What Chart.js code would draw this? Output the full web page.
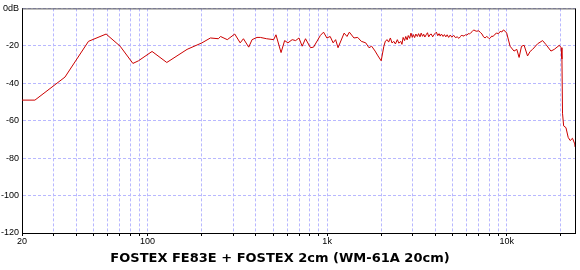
<!DOCTYPE html>
<html>
<head>
<meta charset="utf-8">
<title>FOSTEX FE83E + FOSTEX 2cm</title>
<script src="https://cdn.jsdelivr.net/npm/chart.js@4"></script>
<style>
    body { margin: 0; background: #fff; }
    #response-chart { display: block; }
</style>
</head>
<body>
<canvas id="response-chart" width="580" height="270"></canvas>
<script>
const frequencies = [
    20, 23.6, 34.7, 46.9, 58.8, 70.4, 82.9, 89, 106, 128,
    166, 201, 224, 248, 255, 278, 306, 328, 342, 366,
    382, 407, 425, 460, 504, 519, 554, 580, 605, 639,
    668, 697, 726, 758, 808, 840, 918, 955, 997, 1040,
    1080, 1115, 1150, 1244, 1290, 1330, 1410, 1480, 1550, 1640,
    1710, 1770, 1850, 1920, 2000, 2070, 2110, 2160, 2200, 2250,
    2300, 2350, 2400, 2460, 2510, 2570, 2610, 2650, 2700, 2740,
    2790, 2830, 2880, 2930, 2980, 3020, 3070, 3120, 3180, 3230,
    3290, 3340, 3400, 3450, 3500, 3560, 3620, 3680, 3740, 3800,
    3870, 3930, 4000, 4060, 4130, 4200, 4260, 4330, 4420, 4500,
    4580, 4660, 4750, 4850, 4950, 5070, 5180, 5300, 5420, 5530,
    5620, 5700, 5800, 5890, 6000, 6100, 6200, 6290, 6420, 6550,
    6760, 6980, 7130, 7280, 7430, 7580, 7720, 7850, 8000, 8100,
    8250, 8400, 8600, 8800, 9000, 9190, 9400, 9580, 9800, 10000,
    10440, 10980, 11380, 11720, 12090, 12500, 13060, 13500, 13930, 14860,
    15840, 16540, 17630, 18390, 19640, 20070, 20300, 20450, 20750, 21370,
    21990, 22550, 23240, 23930, 24000
];
const levels = [
    -49, -49, -36.7, -17.6, -13.7, -20.2, -29.4, -28, -23, -28.9,
    -21.9, -18.4, -15.8, -16.2, -15, -16.7, -13.7, -18.4, -16.2, -20.7,
    -16.7, -15.5, -15.5, -16.2, -16.7, -14.1, -23.6, -17.2, -18.4, -16.7,
    -17.2, -15.8, -20.2, -16.2, -21, -20.7, -14.4, -12.7, -15.8, -15,
    -18.4, -16.7, -21, -13.2, -15, -12.7, -15.8, -15.5, -17.6, -18.4,
    -21, -20.2, -22.8, -25.4, -28, -20.2, -17.5, -16.7, -18, -15.8,
    -18.5, -17.6, -19, -16.7, -18.6, -17.6, -19.2, -15.5, -17.2, -15,
    -16.8, -14.5, -16, -13.2, -15.5, -14, -15.6, -13.7, -15, -13.5,
    -15.2, -13.2, -14.9, -13.8, -15.3, -14.1, -13, -15.2, -14, -13.7,
    -15.2, -14, -13.4, -12.7, -14.6, -13.5, -14.8, -13.7, -15, -14,
    -15.2, -14.1, -15.5, -14.2, -15.4, -14.4, -15.6, -15.2, -16, -15,
    -14.2, -14.8, -14.6, -14.1, -14.3, -13.5, -13.6, -13.2, -12.4, -11.5,
    -12.2, -12, -12.8, -13.7, -15.2, -15.8, -15, -15.4, -16.2, -15.8,
    -14.8, -15, -13.8, -13.2, -13.5, -12.3, -12.6, -11.5, -12.2, -13.2,
    -20.2, -22.8, -21.9, -26.2, -20.2, -19.7, -25.4, -23, -21.9, -18.9,
    -17.2, -19.3, -22.8, -21.9, -19.7, -21, -27, -56, -62.8, -63.7,
    -68.9, -70.6, -69.4, -72.4, -74
];

// vertical grid positions and the ones that carry a label
const freqTicks = [
    20, 30, 40, 50, 60, 70, 80, 90,
    100, 200, 300, 400, 500, 600, 700, 800, 900,
    1000, 2000, 3000, 4000, 5000, 6000, 7000, 8000, 9000,
    10000, 20000
];
const freqLabels = {20: '20', 100: '100', 1000: '1k', 10000: '10k'};
const levelTicks = [-120, -100, -80, -60, -40, -20, 0];
const chartTitle = 'FOSTEX FE83E + FOSTEX 2cm (WM-61A 20cm)';

const gridColor = '#b8b8ff';
const tickFont = {family: 'Liberation Sans', size: 9};

// frame on top/right and the caption under the plot
const framePlugin = {
    id: 'frame',
    afterDraw(chart) {
        const ctx = chart.ctx;
        const area = chart.chartArea;
        ctx.save();
        ctx.lineWidth = 1;
        ctx.strokeStyle = '#555';
        ctx.beginPath();
        ctx.moveTo(area.left, area.top + 0.5);
        ctx.lineTo(area.right, area.top + 0.5);
        ctx.stroke();
        ctx.strokeStyle = '#000';
        ctx.beginPath();
        ctx.moveTo(area.right + 0.5, area.top);
        ctx.lineTo(area.right + 0.5, area.bottom);
        ctx.stroke();

        ctx.fillStyle = '#000';
        ctx.font = 'bold 13px "DejaVu Sans"';
        ctx.textAlign = 'center';
        ctx.textBaseline = 'alphabetic';
        ctx.fillText(chartTitle, 280, 262);
        ctx.restore();
    }
};

function drawResponseChart() {
    const data = {
        datasets: [
            {
                data: frequencies.map((f, i) => ({x: f, y: levels[i]})),
                borderColor: '#cc0000',
                borderWidth: 1,
                pointRadius: 0,
                tension: 0,
                fill: false
            }
        ]
    };

    const chartConfig = {
        type: 'line',
        data: data,
        options: {
            responsive: false,
            animation: false,
            layout: {
                padding: {top: 3, right: 5, left: 0, bottom: 0}
            },
            scales: {
                x: {
                    type: 'logarithmic',
                    min: 20,
                    max: 24000,
                    afterBuildTicks: (scale) => {
                        scale.ticks = freqTicks.map((v) => ({value: v}));
                    },
                    afterFit: (scale) => {
                        scale.height = 37;
                    },
                    ticks: {
                        autoSkip: false,
                        maxRotation: 0,
                        padding: 0,
                        color: '#000',
                        font: tickFont,
                        callback: (value) => freqLabels[value] || ''
                    },
                    grid: {
                        color: gridColor,
                        drawTicks: true,
                        tickLength: 3,
                        tickColor: '#000'
                    },
                    border: {
                        display: true,
                        color: '#000',
                        dash: [3, 2]
                    }
                },
                y: {
                    min: -120,
                    max: 0,
                    afterBuildTicks: (scale) => {
                        scale.ticks = levelTicks.map((v) => ({value: v}));
                    },
                    afterFit: (scale) => {
                        scale.width = 22;
                    },
                    ticks: {
                        padding: 3,
                        color: '#000',
                        font: tickFont,
                        callback: (value) => value === 0 ? '0dB' : value
                    },
                    grid: {
                        color: gridColor,
                        drawTicks: false
                    },
                    border: {
                        display: true,
                        color: '#000',
                        dash: [3, 2]
                    }
                }
            },
            plugins: {
                legend: {display: false},
                tooltip: {enabled: false}
            }
        },
        plugins: [framePlugin]
    };

    const canvas = document.querySelector('#response-chart');
    if (canvas) {
        new Chart(canvas, chartConfig);
    }
}

drawResponseChart();
</script>
</body>
</html>
